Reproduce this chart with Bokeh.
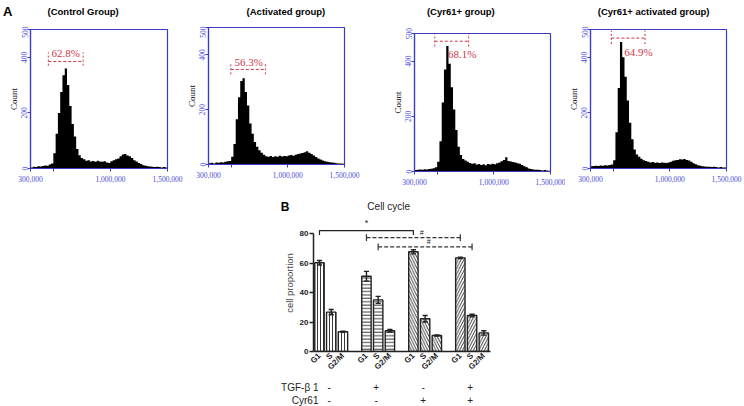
import math
from bokeh.plotting import figure
from bokeh.models import Range1d, FactorRange, FixedTicker, ColumnDataSource
from bokeh.layouts import row, column
from bokeh.embed import file_html
from bokeh.resources import INLINE
from bokeh.core.properties import value, field

SANS = "Liberation Sans"
SERIF = "Liberation Serif"
BLUE = "#3a3ac6"
TICK_BLUE = "#4a4ad4"
RED = "#d0384a"
INK = "#222222"

# ---------------- Panel A: DNA content histograms ----------------
bin_starts = list(range(300000, 1500000, 20000))

control_counts = [4, 6, 5, 8, 7, 9, 11, 10, 14, 18,
                  55, 125, 200, 275, 335, 360, 300, 225, 160, 115,
                  70, 48, 38, 33, 28, 30, 25, 27, 24, 28,
                  25, 24, 26, 22, 20, 26, 30, 33, 36, 44,
                  50, 52, 47, 44, 38, 30, 25, 20, 16, 12,
                  10, 8, 7, 6, 5, 6, 5, 4, 5, 4]
activated_counts = [5, 6, 4, 7, 6, 8, 7, 10, 12, 13,
                    28, 75, 165, 245, 305, 315, 265, 215, 150, 112,
                    82, 65, 52, 43, 36, 30, 28, 31, 27, 30,
                    28, 32, 29, 31, 30, 33, 35, 32, 36, 38,
                    40, 42, 45, 48, 43, 38, 33, 27, 22, 18,
                    15, 12, 10, 8, 7, 6, 5, 4, 4, 3]
cyr61_counts = [5, 6, 7, 6, 8, 7, 9, 10, 12, 15,
                35, 110, 250, 370, 455, 390, 305, 225, 150, 90,
                60, 45, 40, 35, 31, 28, 30, 25, 27, 24,
                26, 23, 27, 25, 28, 26, 30, 33, 37, 42,
                52, 38, 36, 34, 33, 30, 28, 24, 19, 15,
                11, 9, 7, 6, 6, 5, 4, 5, 4, 3]
cyr61_act_counts = [8, 9, 10, 9, 11, 10, 12, 11, 13, 14,
                    30, 130, 290, 455, 400, 330, 245, 165, 105, 68,
                    50, 42, 35, 30, 27, 24, 22, 23, 21, 22,
                    20, 22, 21, 20, 22, 24, 28, 30, 31, 33,
                    32, 34, 31, 29, 24, 19, 15, 12, 10, 8,
                    7, 6, 6, 5, 6, 5, 4, 5, 4, 4]

hist_titles = ["(Control Group)", "(Activated group)", "(Cyr61+ group)", "(Cyr61+ activated group)"]
title_x = [761000, 983000, 709000, 857000]
x_ticks = [300000, 500000, 1000000, 1500000]
x_tick_labels = ["300,000", "", "1,000,000", "1,500,000"]
y_ticks = [0, 200, 400, 500]
y_tick_labels = ["0", "200", "400", "500"]

gate_labels = ["62.8%", "56.3%", "68.1%", "64.9%"]
gate_lo = [456000, 497000, 479000, 484000]
gate_hi = [761000, 802000, 778000, 781000]
gate_level = [385, 347, 472, 469]
gate_top = [418, 373, 500, 496]
gate_bottom = [370, 329, 453, 448]
gate_label_x = [608000, 654000, 720000, 723000]
gate_label_y = [414, 373, 426, 418]

# ---------------- Panel B: cell cycle bars ----------------
phases = ["G1", "S", "G2/M"]
bar_pos = [0, 1, 2, 4, 5, 6, 8, 9, 10, 12, 13, 14]
control_vals = [60.2, 26.7, 13.4]
activated_vals = [51.0, 35.0, 14.1]
cyr61_vals = [67.6, 22.2, 10.8]
cyr61_act_vals = [63.5, 24.4, 12.6]
control_err = [1.5, 1.8, 0.4]
activated_err = [3.3, 2.4, 0.9]
cyr61_err = [1.4, 2.2, 0.4]
cyr61_act_err = [0.5, 0.9, 1.5]
s_pos = [1, 5, 9, 13]
treatments = ["TGF-β 1", "Cyr61"]
tgf_signs = ["-", "+", "-", "+"]
cyr61_signs = ["-", "-", "+", "+"]
sig_x0 = [0, 4, 5]
sig_x1 = [8, 12, 13]
sig_y = [82, 77.2, 70.9]
sig_marks = ["*", "#", "#"]
y_ticks_b = [0, 20, 40, 60, 80]

STRIP_H = 26
HIST_H = 172
X0, X1 = 300000, 1500000


def plain(p):
    p.outline_line_color = None
    p.grid.visible = False
    return p


def hist_col(i, counts, width, left, right, top, bottom):
    p = figure(width=width, height=HIST_H, x_range=Range1d(X0, X1),
               y_range=Range1d(0, 500), output_backend="svg", toolbar_location=None,
               min_border_left=left, min_border_right=right,
               min_border_top=top, min_border_bottom=bottom)
    p.grid.visible = False
    p.outline_line_color = BLUE
    p.outline_line_width = 1.2
    p.varea_step(x=bin_starts + [X1], y1=[0] * (len(counts) + 1),
                 y2=counts + [counts[-1]], step_mode="after", fill_color="black")
    xa = p.xaxis[0]
    xa.ticker = FixedTicker(ticks=x_ticks)
    xa.major_label_overrides = {t: l for t, l in zip(x_ticks, x_tick_labels)}
    ya = p.yaxis[0]
    ya.ticker = FixedTicker(ticks=y_ticks)
    ya.major_label_overrides = {t: l for t, l in zip(y_ticks, y_tick_labels)}
    ya.major_label_orientation = "vertical"
    for ax in (xa, ya):
        ax.axis_line_color = BLUE
        ax.axis_line_width = 1.2
        ax.major_tick_line_color = BLUE
        ax.major_tick_out = 3
        ax.major_tick_in = 0
        ax.minor_tick_line_color = None
        ax.major_label_text_font = SERIF
        ax.major_label_text_font_size = "7.5px"
        ax.major_label_text_color = TICK_BLUE
    xa.major_label_standoff = 4
    ya.major_label_standoff = 0
    ya.axis_label = "Count"
    ya.axis_label_text_font = SERIF
    ya.axis_label_text_font_size = "9px"
    ya.axis_label_text_font_style = "normal"
    ya.axis_label_text_color = "black"
    ya.axis_label_standoff = 0
    # gate
    p.segment(x0=[gate_lo[i]], y0=[gate_level[i]], x1=[gate_hi[i]], y1=[gate_level[i]],
              line_color=RED, line_dash="3 2", line_width=1)
    p.segment(x0=[gate_lo[i], gate_hi[i]], y0=[gate_bottom[i]] * 2,
              x1=[gate_lo[i], gate_hi[i]], y1=[gate_top[i]] * 2,
              line_color=RED, line_dash="2 2", line_width=1)
    p.text(x=[gate_label_x[i]], y=[gate_label_y[i]], text=[gate_labels[i]],
           text_font=value(SERIF), text_font_size="11px", text_color=RED,
           text_align="center", text_baseline="middle")

    # title strip above the histogram (frame aligned with the histogram frame)
    if i == 0:
        s = figure(width=width, height=STRIP_H, x_range=p.x_range,
                   y_range=FactorRange(factors=["A"]), x_axis_type=None,
                   output_backend="svg", toolbar_location=None,
                   min_border_left=left, min_border_right=right,
                   min_border_top=2, min_border_bottom=6)
        sa = s.yaxis[0]
        sa.axis_line_color = None
        sa.major_tick_line_color = None
        sa.major_tick_out = 0
        sa.major_tick_in = 0
        sa.major_label_standoff = 18
        sa.major_label_text_font = SANS
        sa.major_label_text_font_style = "bold"
        sa.major_label_text_font_size = "13px"
        sa.major_label_text_color = "black"
        ty = ["A"]
    else:
        s = figure(width=width, height=STRIP_H, x_range=p.x_range,
                   y_range=Range1d(0, 1), x_axis_type=None, y_axis_type=None,
                   output_backend="svg", toolbar_location=None,
                   min_border_left=left, min_border_right=right,
                   min_border_top=2, min_border_bottom=6)
        ty = [0.5]
    plain(s)
    s.text(x=[title_x[i]], y=ty, text=[hist_titles[i]],
           text_font=value(SANS), text_font_style="bold", text_font_size="9.5px",
           text_color="black", text_align="center", text_baseline="middle")
    return column(s, p)


c1 = hist_col(0, control_counts, 183, 29, 16, 3, 30)
c2 = hist_col(1, activated_counts, 206, 23, 45, 1, 34)
c3 = hist_col(2, cyr61_counts, 176, 23, 15, 7, 27)
c4 = hist_col(3, cyr61_act_counts, 179, 23, 18, 3, 30)

# ---------------- bar chart ----------------
B_LEFT, B_RIGHT = 313, 254
vals = control_vals + activated_vals + cyr61_vals + cyr61_act_vals
errs = control_err + activated_err + cyr61_err + cyr61_act_err
hatches = (["vertical_line"] * 3 + ["horizontal_line"] * 3 +
           ["left_diagonal_line"] * 3 + ["right_diagonal_line"] * 3)
scales = [3.0] * 3 + [3.4] * 3 + [5.5] * 6
src = ColumnDataSource(dict(
    x=bar_pos, top=vals, hatch=hatches, scale=scales,
    lo=[v - e for v, e in zip(vals, errs)], hi=[v + e for v, e in zip(vals, errs)],
    cl=[x - 0.22 for x in bar_pos], cr=[x + 0.22 for x in bar_pos]))

bx = Range1d(-0.51, 14.57)
b = figure(width=744, height=163, x_range=bx, y_range=Range1d(0, 92.9),
           output_backend="svg", toolbar_location=None,
           min_border_left=B_LEFT, min_border_right=B_RIGHT,
           min_border_top=0, min_border_bottom=25)
plain(b)
b.vbar(x="x", top="top", width=0.8, source=src, fill_color="white",
       line_color=INK, line_width=1.4, hatch_pattern=field("hatch"),
       hatch_scale=field("scale"), hatch_color=INK, hatch_weight=0.9)
b.segment(x0="x", y0="lo", x1="x", y1="hi", source=src, line_color=INK, line_width=1.4)
b.segment(x0="cl", y0="hi", x1="cr", y1="hi", source=src, line_color=INK, line_width=1.4)
b.segment(x0="cl", y0="lo", x1="cr", y1="lo", source=src, line_color=INK, line_width=1.4)

xa = b.xaxis[0]
xa.ticker = FixedTicker(ticks=bar_pos)
xa.major_label_overrides = {p_: l for p_, l in zip(bar_pos, phases * 4)}
xa.major_label_orientation = math.pi / 4
xa.major_tick_out = 0
xa.major_tick_in = 0
xa.major_tick_line_color = None
xa.minor_tick_line_color = None
xa.axis_line_width = 1.5
xa.axis_line_color = INK
xa.major_label_text_font = SANS
xa.major_label_text_font_style = "bold"
xa.major_label_text_font_size = "8px"
xa.major_label_text_color = INK
xa.major_label_standoff = 3

ya = b.yaxis[0]
ya.ticker = FixedTicker(ticks=y_ticks_b)
ya.bounds = (0, 80)
ya.major_tick_out = 4
ya.major_tick_in = 0
ya.minor_tick_line_color = None
ya.axis_line_width = 1.5
ya.axis_line_color = INK
ya.major_tick_line_width = 1.5
ya.major_tick_line_color = INK
ya.major_label_text_font = SANS
ya.major_label_text_font_style = "bold"
ya.major_label_text_font_size = "8px"
ya.major_label_text_color = INK
ya.major_label_standoff = 1
ya.axis_label = "cell proportion"
ya.axis_label_text_font = SANS
ya.axis_label_text_font_style = "normal"
ya.axis_label_text_font_size = "9.5px"
ya.axis_label_text_color = "#444444"
ya.axis_label_standoff = 2

# significance brackets
b.line(x=[sig_x0[0], sig_x0[0], sig_x1[0], sig_x1[0]],
       y=[sig_y[0] - 3, sig_y[0], sig_y[0], sig_y[0] - 3], line_color=INK, line_width=1.2)
for k in (1, 2):
    b.segment(x0=[sig_x0[k]], y0=[sig_y[k]], x1=[sig_x1[k]], y1=[sig_y[k]],
              line_color="#333333", line_dash="4 2", line_width=1.2)
    b.segment(x0=[sig_x0[k], sig_x1[k]], y0=[sig_y[k] - 2.3] * 2,
              x1=[sig_x0[k], sig_x1[k]], y1=[sig_y[k] + 2.3] * 2,
              line_color="#333333", line_width=1.2)
b.text(x=[(sig_x0[0] + sig_x1[0]) / 2], y=[sig_y[0] + 2], text=[sig_marks[0]],
       text_font=value(SANS), text_font_size="9px", text_color=INK,
       text_align="center", text_baseline="bottom")
b.text(x=[(sig_x0[1] + sig_x1[1]) / 2 + 0.7, (sig_x0[2] + sig_x1[2]) / 2 + 0.3],
       y=[sig_y[1] + 1.2, sig_y[2] + 1.2], text=sig_marks[1:],
       text_font=value(SANS), text_font_size="7px", text_font_style="italic",
       text_color=INK, text_align="center", text_baseline="bottom")

# title strip: panel letter as a category label, title as text
top = figure(width=744, height=16, x_range=bx, y_range=FactorRange(factors=["B"]),
             x_axis_type=None, output_backend="svg", toolbar_location=None,
             min_border_left=B_LEFT, min_border_right=B_RIGHT,
             min_border_top=0, min_border_bottom=0)
plain(top)
ta = top.yaxis[0]
ta.axis_line_color = None
ta.major_tick_line_color = None
ta.major_tick_out = 0
ta.major_tick_in = 0
ta.major_label_standoff = 24
ta.major_label_text_font = SANS
ta.major_label_text_font_style = "bold"
ta.major_label_text_font_size = "12px"
ta.major_label_text_color = "black"
top.text(x=[5.9], y=["B"], text=["Cell cycle"], text_font=value(SANS),
         text_font_size="10px", text_color=INK, text_align="center",
         text_baseline="middle")

# treatment table strip
bot = figure(width=744, height=29, x_range=bx,
             y_range=FactorRange(factors=treatments[::-1]),
             x_axis_type=None, output_backend="svg", toolbar_location=None,
             min_border_left=B_LEFT, min_border_right=B_RIGHT,
             min_border_top=3, min_border_bottom=0)
plain(bot)
ba = bot.yaxis[0]
ba.axis_line_color = None
ba.major_tick_line_color = None
ba.major_tick_out = 0
ba.major_tick_in = 0
ba.major_label_standoff = -5
ba.major_label_text_font = SANS
ba.major_label_text_font_size = "10px"
ba.major_label_text_color = INK
bot.text(x=s_pos + s_pos, y=[treatments[0]] * 4 + [treatments[1]] * 4, x_offset=-2,
         text=tgf_signs + cyr61_signs, text_font=value(SANS),
         text_font_size="10px", text_color=INK, text_align="center",
         text_baseline="middle")

layout = column(row(c1, c2, c3, c4), top, b, bot)
open("out.html", "w").write(file_html(layout, INLINE))
